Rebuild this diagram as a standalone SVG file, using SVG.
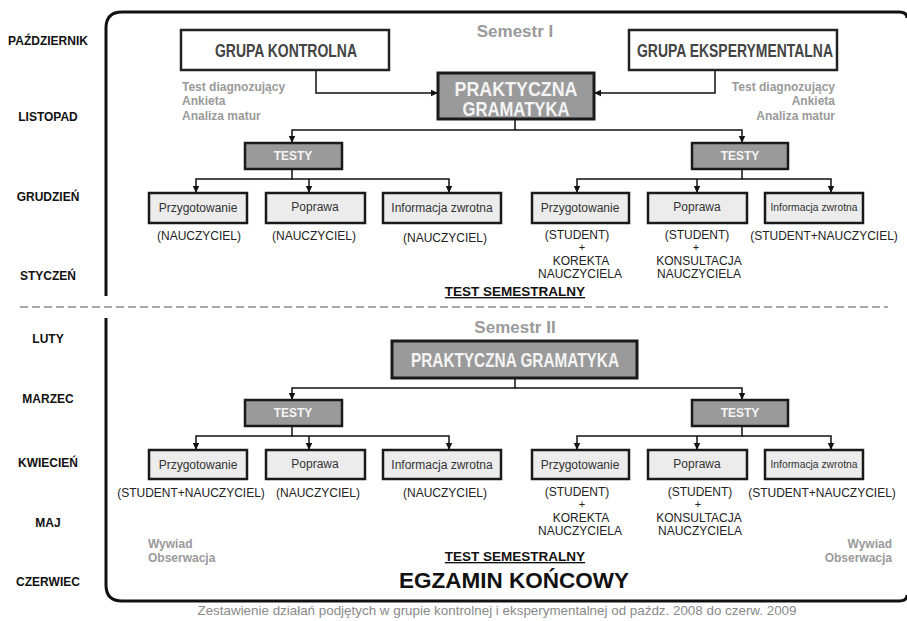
<svg xmlns="http://www.w3.org/2000/svg" width="907" height="621" viewBox="0 0 907 621">
<defs>
<style>
text{font-family:"Liberation Sans",Arial,sans-serif}
.month{font-size:12px;font-weight:bold;fill:#111;text-anchor:middle}
.sem{font-size:17px;font-weight:bold;fill:#9a9a9a;text-anchor:middle}
.grp{fill:#fff;stroke:#222;stroke-width:2.5}
.grpt{font-size:19px;font-weight:bold;fill:#444;text-anchor:middle}
.pg{fill:#9a9a9a;stroke:#1a1a1a;stroke-width:3}
.pgt{font-size:20px;font-weight:bold;fill:#f4f4f4;text-anchor:middle}
.tst{fill:#9a9a9a;stroke:#1a1a1a;stroke-width:2.5}
.tstt{font-size:12px;font-weight:bold;fill:#f4f4f4;text-anchor:middle}
.ch{fill:#ececec;stroke:#1a1a1a;stroke-width:2.5}
.cht{font-size:12px;fill:#333;text-anchor:middle}
.chs{font-size:10.3px;fill:#333;text-anchor:middle}
.lab{font-size:12px;fill:#222;text-anchor:middle}
.plus{font-size:11px;fill:#222;text-anchor:middle}
.note{font-size:12px;font-weight:bold;fill:#9a9a9a}
.ts{font-size:13.5px;font-weight:bold;fill:#111;text-anchor:middle;text-decoration:underline}
.conn{fill:none;stroke:#111;stroke-width:1.5}
</style>
<marker id="ah" markerUnits="userSpaceOnUse" markerWidth="8" markerHeight="8" refX="7" refY="4" orient="auto">
<path d="M0,0.8 L7,4 L0,7.2 Z" fill="#111"/>
</marker>
</defs>
<rect width="907" height="621" fill="#fff"/>

<!-- frame -->
<g id="frame" fill="none" stroke="#111" stroke-width="3">
<path d="M907,18 Q907,12 899,12 H122 Q106,12 106,28 V296"/>
<path d="M106,318 V585 Q106,601 122,601 H899 Q907,601 907,595"/>
</g>
<line id="divider" x1="20" y1="307" x2="888" y2="307" stroke="#a8a8a8" stroke-width="2.2" stroke-dasharray="8,4"/>

<!-- months -->
<g id="months">
<text class="month" x="48" y="45">PAŹDZIERNIK</text>
<text class="month" x="48" y="121">LISTOPAD</text>
<text class="month" x="48" y="201">GRUDZIEŃ</text>
<text class="month" x="48" y="280">STYCZEŃ</text>
<text class="month" x="48" y="343">LUTY</text>
<text class="month" x="48" y="403">MARZEC</text>
<text class="month" x="48" y="467">KWIECIEŃ</text>
<text class="month" x="48" y="527">MAJ</text>
<text class="month" x="48" y="586">CZERWIEC</text>
</g>

<!-- connectors -->
<g id="connectors" class="conn">
<path d="M316,70 V93 H438" marker-end="url(#ah)"/>
<path d="M715,70 V93 H594" marker-end="url(#ah)"/>
<path d="M515,119 V130 H292 V143" marker-end="url(#ah)"/>
<path d="M515,130 H742 V143" marker-end="url(#ah)"/>
<path d="M292,169 V179 H196 V193" marker-end="url(#ah)"/>
<path d="M292,179 H449 V193" marker-end="url(#ah)"/>
<path d="M309,179 V193" marker-end="url(#ah)"/>
<path d="M742,169 V179 H577 V193" marker-end="url(#ah)"/>
<path d="M742,179 H831 V193" marker-end="url(#ah)"/>
<path d="M697,179 V193" marker-end="url(#ah)"/>
<path d="M515,378 V388 H292 V400" marker-end="url(#ah)"/>
<path d="M515,388 H742 V400" marker-end="url(#ah)"/>
<path d="M292,426 V436 H196 V450" marker-end="url(#ah)"/>
<path d="M292,436 H449 V450" marker-end="url(#ah)"/>
<path d="M309,436 V450" marker-end="url(#ah)"/>
<path d="M742,426 V436 H577 V450" marker-end="url(#ah)"/>
<path d="M742,436 H831 V450" marker-end="url(#ah)"/>
<path d="M697,436 V450" marker-end="url(#ah)"/>
</g>

<!-- Semester I -->
<text id="sem1" class="sem" x="515" y="37">Semestr I</text>
<g id="grupa-kontrolna">
<rect class="grp" x="181" y="30" width="208" height="40"/>
<text class="grpt" x="286" y="57" textLength="142" lengthAdjust="spacingAndGlyphs">GRUPA KONTROLNA</text>
</g>
<g id="grupa-eksperymentalna">
<rect class="grp" x="629" y="30" width="208" height="40"/>
<text class="grpt" x="735" y="57" textLength="196" lengthAdjust="spacingAndGlyphs">GRUPA EKSPERYMENTALNA</text>
</g>
<g id="notes-1" class="note">
<text x="182" y="91">Test diagnozujący</text>
<text x="182" y="105">Ankieta</text>
<text x="182" y="120">Analiza matur</text>
<text x="835" y="91" text-anchor="end">Test diagnozujący</text>
<text x="835" y="105" text-anchor="end">Ankieta</text>
<text x="835" y="120" text-anchor="end">Analiza matur</text>
</g>
<g id="pg1">
<rect class="pg" x="438" y="73" width="156" height="46"/>
<text class="pgt" x="516" y="96" textLength="123" lengthAdjust="spacingAndGlyphs">PRAKTYCZNA</text>
<text class="pgt" x="516" y="116" textLength="107" lengthAdjust="spacingAndGlyphs">GRAMATYKA</text>
</g>
<g id="testy-1l">
<rect class="tst" x="245" y="143" width="97" height="26"/>
<text class="tstt" x="293" y="160">TESTY</text>
</g>
<g id="testy-1r">
<rect class="tst" x="692" y="143" width="96" height="26"/>
<text class="tstt" x="740" y="160">TESTY</text>
</g>
<g id="c1-przyg-l">
<rect class="ch" x="149" y="193" width="98" height="30"/>
<text class="cht" x="198" y="212">Przygotowanie</text>
<text class="lab" x="199" y="240">(NAUCZYCIEL)</text>
</g>
<g id="c1-popr-l">
<rect class="ch" x="266" y="193" width="99" height="30"/>
<text class="cht" x="315" y="211">Poprawa</text>
<text class="lab" x="314" y="240">(NAUCZYCIEL)</text>
</g>
<g id="c1-info-l">
<rect class="ch" x="383" y="193" width="118" height="30"/>
<text class="cht" x="442" y="212">Informacja zwrotna</text>
<text class="lab" x="445" y="242">(NAUCZYCIEL)</text>
</g>
<g id="c1-przyg-r">
<rect class="ch" x="532" y="193" width="97" height="30"/>
<text class="cht" x="580" y="212">Przygotowanie</text>
<text class="lab" x="577" y="239">(STUDENT)</text>
<text class="plus" x="582" y="251">+</text>
<text class="lab" x="581" y="265">KOREKTA</text>
<text class="lab" x="580" y="278">NAUCZYCIELA</text>
</g>
<g id="c1-popr-r">
<rect class="ch" x="648" y="193" width="99" height="30"/>
<text class="cht" x="697" y="211">Poprawa</text>
<text class="lab" x="697" y="239">(STUDENT)</text>
<text class="plus" x="696" y="251">+</text>
<text class="lab" x="699" y="265">KONSULTACJA</text>
<text class="lab" x="699" y="278">NAUCZYCIELA</text>
</g>
<g id="c1-info-r">
<rect class="ch" x="765" y="193" width="98" height="30"/>
<text class="chs" x="814" y="211">Informacja zwrotna</text>
<text class="lab" x="824" y="240">(STUDENT+NAUCZYCIEL)</text>
</g>
<text id="ts1" class="ts" x="515" y="296">TEST SEMESTRALNY</text>

<!-- Semester II -->
<text id="sem2" class="sem" x="515" y="333">Semestr II</text>
<g id="pg2">
<rect class="pg" x="392" y="341" width="245" height="37"/>
<text class="pgt" x="515" y="367" textLength="208" lengthAdjust="spacingAndGlyphs">PRAKTYCZNA GRAMATYKA</text>
</g>
<g id="testy-2l">
<rect class="tst" x="245" y="400" width="97" height="26"/>
<text class="tstt" x="293" y="417">TESTY</text>
</g>
<g id="testy-2r">
<rect class="tst" x="692" y="400" width="96" height="26"/>
<text class="tstt" x="740" y="417">TESTY</text>
</g>
<g id="c2-przyg-l">
<rect class="ch" x="149" y="450" width="98" height="29"/>
<text class="cht" x="198" y="469">Przygotowanie</text>
<text class="lab" x="191" y="497">(STUDENT+NAUCZYCIEL)</text>
</g>
<g id="c2-popr-l">
<rect class="ch" x="266" y="450" width="99" height="29"/>
<text class="cht" x="315" y="468">Poprawa</text>
<text class="lab" x="318" y="497">(NAUCZYCIEL)</text>
</g>
<g id="c2-info-l">
<rect class="ch" x="383" y="450" width="118" height="29"/>
<text class="cht" x="442" y="469">Informacja zwrotna</text>
<text class="lab" x="445" y="497">(NAUCZYCIEL)</text>
</g>
<g id="c2-przyg-r">
<rect class="ch" x="532" y="450" width="97" height="29"/>
<text class="cht" x="580" y="469">Przygotowanie</text>
<text class="lab" x="577" y="496">(STUDENT)</text>
<text class="plus" x="582" y="508">+</text>
<text class="lab" x="581" y="522">KOREKTA</text>
<text class="lab" x="580" y="535">NAUCZYCIELA</text>
</g>
<g id="c2-popr-r">
<rect class="ch" x="648" y="450" width="99" height="29"/>
<text class="cht" x="697" y="468">Poprawa</text>
<text class="lab" x="700" y="496">(STUDENT)</text>
<text class="plus" x="698" y="508">+</text>
<text class="lab" x="699" y="522">KONSULTACJA</text>
<text class="lab" x="700" y="535">NAUCZYCIELA</text>
</g>
<g id="c2-info-r">
<rect class="ch" x="765" y="450" width="98" height="29"/>
<text class="chs" x="814" y="468">Informacja zwrotna</text>
<text class="lab" x="822" y="497">(STUDENT+NAUCZYCIEL)</text>
</g>
<g id="notes-2" class="note">
<text x="148" y="548">Wywiad</text>
<text x="148" y="562">Obserwacja</text>
<text x="892" y="548" text-anchor="end">Wywiad</text>
<text x="892" y="562" text-anchor="end">Obserwacja</text>
</g>
<text id="ts2" class="ts" x="515" y="561">TEST SEMESTRALNY</text>
<text id="egz" x="514" y="588" font-size="22.5" font-weight="bold" fill="#111" text-anchor="middle">EGZAMIN KOŃCOWY</text>

<text id="caption" x="497" y="615" font-size="13" fill="#8a8a8a" text-anchor="middle" textLength="599" lengthAdjust="spacingAndGlyphs">Zestawienie działań podjętych w grupie kontrolnej i eksperymentalnej od paźdz. 2008 do czerw. 2009</text>
</svg>
